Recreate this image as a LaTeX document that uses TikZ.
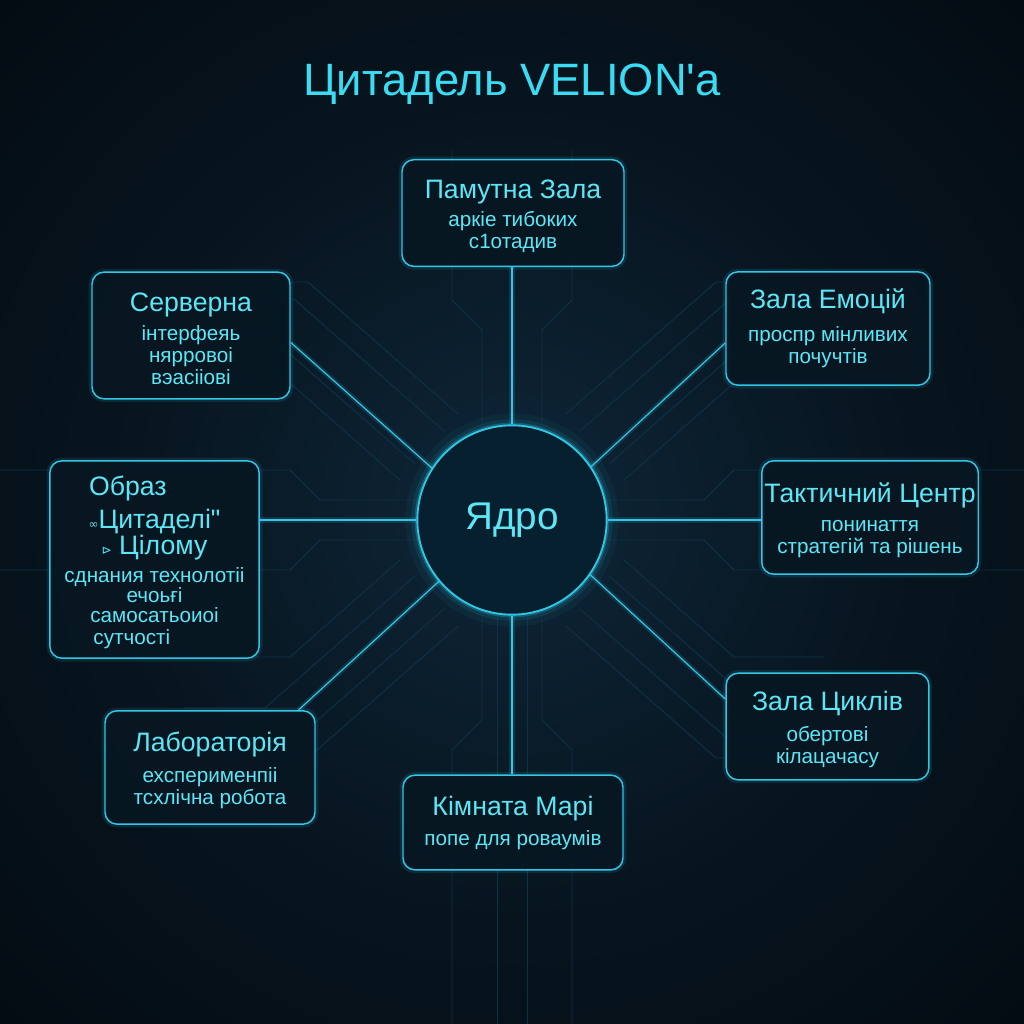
\documentclass[tikz,border=0pt]{standalone}
\usepackage{fontspec}
\setmainfont{Liberation Sans}[Ligatures=TeXOff]
\newfontfamily\symfont{DejaVu Sans}

\definecolor{bgcore}{HTML}{0E2638}
\definecolor{bgmid}{HTML}{07141E}
\definecolor{bgedge}{HTML}{010408}
\definecolor{cyanline}{HTML}{33C6E6}
\definecolor{cyantext}{HTML}{5CE6F6}
\definecolor{titlecyan}{HTML}{3ADCF4}
\definecolor{boxfill}{HTML}{071722}
\definecolor{tracecol}{HTML}{0D3248}
\definecolor{coredark}{HTML}{072030}
\definecolor{coremid}{HTML}{0C4058}
\definecolor{coreedge}{HTML}{2CC8E4}

\pgfdeclareradialshading{bgshade}{\pgfpoint{0bp}{0bp}}{color(0bp)=(bgcore); color(20bp)=(bgmid); color(50bp)=(bgedge); color(72bp)=(bgedge)}
\pgfdeclareradialshading{coreshade}{\pgfpoint{0bp}{0bp}}{color(0bp)=(coredark); color(30bp)=(coredark); color(44bp)=(coremid); color(50bp)=(coreedge)}

\newcommand{\hallname}{\fontsize{20}{24}\selectfont}
\newcommand{\hallhead}{\hallname\rule{0pt}{19pt}}
\newcommand{\hallnote}{\fontsize{15.5}{16.5}\selectfont}

\tikzset{
  hall/.style={draw=cyanline, line width=1.1pt, fill=boxfill, fill opacity=0.9, text opacity=1,
    rounded corners=9pt, align=center, text=cyantext, inner sep=2pt, font=\hallnote,
    preaction={draw=cyanline, line width=5pt, draw opacity=0.12}},
  link/.style={draw=cyanline, line width=0.9pt,
    preaction={draw=cyanline, line width=4pt, draw opacity=0.15}},
  trace/.style={draw=tracecol, line width=0.7pt},
  core/.style={circle, minimum size=142pt, shading=coreshade, draw=coreedge, line width=1.4pt,
    text=cyantext, font=\fontsize{29}{32}\selectfont,
    preaction={draw=cyanline, line width=18pt, draw opacity=0.05},
    preaction={draw=cyanline, line width=9pt, draw opacity=0.10},
    preaction={draw=cyanline, line width=4pt, draw opacity=0.25}},
  heading/.style={text=titlecyan, font=\fontsize{34}{40}\selectfont}
}

\begin{document}
\begin{tikzpicture}[x=0.75pt,y=0.75pt,yscale=-1,xscale=1]

\fill[shading=bgshade] (0,0) rectangle (1024,1024);
\useasboundingbox (0,0) rectangle (1024,1024);

% circuit traces
\draw[trace] (444,431) -- (294,299) -- (214,299);
\draw[trace] (458,414) -- (308,282) -- (228,282);
\draw[trace] (415,464) -- (265,332) -- (185,332);
\draw[trace] (400,480) -- (290,383) -- (200,383);
\draw[trace] (580,431) -- (730,299) -- (810,299);
\draw[trace] (566,414) -- (716,282) -- (796,282);
\draw[trace] (609,464) -- (759,332) -- (839,332);
\draw[trace] (624,480) -- (734,383) -- (824,383);
\draw[trace] (444,609) -- (294,741) -- (214,741);
\draw[trace] (458,626) -- (308,758) -- (228,758);
\draw[trace] (415,576) -- (265,708) -- (185,708);
\draw[trace] (400,560) -- (290,657) -- (200,657);
\draw[trace] (580,609) -- (730,741) -- (810,741);
\draw[trace] (566,626) -- (716,758) -- (796,758);
\draw[trace] (609,576) -- (759,708) -- (839,708);
\draw[trace] (624,560) -- (734,657) -- (824,657);
\draw[trace] (482,425) -- (482,330) -- (452,300) -- (452,150);
\draw[trace] (542,425) -- (542,330) -- (572,300) -- (572,150);
\draw[trace] (482,615) -- (482,720) -- (452,750) -- (452,1024);
\draw[trace] (542,615) -- (542,720) -- (572,750) -- (572,1024);
\draw[trace] (497,618) -- (497,1024);
\draw[trace] (527,618) -- (527,1024);
\draw[trace] (415,500) -- (320,500) -- (290,470) -- (0,470);
\draw[trace] (415,540) -- (320,540) -- (290,570) -- (0,570);
\draw[trace] (609,500) -- (704,500) -- (734,470) -- (1024,470);
\draw[trace] (609,540) -- (704,540) -- (734,570) -- (1024,570);

% title
\node[heading] (title) at (512,84) {Цитадель VELION'a};

% core
\node[core] (core) at (512,520) {Ядро};

% halls
\node[hall, minimum width=166.5pt, minimum height=80pt] (memory) at (513,213)
  {\hallhead Памутна Зала\\[5pt]\hallnote аркіе тибоких\\\hallnote с1отадив};
\node[hall, minimum width=148.5pt, minimum height=95pt] (server) at (191,335.5)
  {\hallhead Серверна\\[5pt]\hallnote інтерфеяь\\\hallnote нярровоі\\\hallnote вэасііові};
\node[hall, minimum width=153pt, minimum height=85pt] (emotion) at (828,328.5)
  {\hallname Зала Емоцій\\[8pt]\hallnote проспр мінливих\\\hallnote почучтів};
\node[hall, minimum width=157pt, minimum height=148pt] (image) at (154.5,559.5)
  {\hallhead Образ\hspace*{40pt}\\[5pt]\hallname{\symfont\fontsize{9}{10}\selectfont∞}Цитаделі"\\[0pt]%
   \hallname{\symfont\fontsize{9}{10}\selectfont⊳} Цілому\hspace*{13pt}\\[5pt]\hallnote сднания технолотіі\\[-1.5pt]%
   \hallnote ечоьғі\hspace*{52pt}\\[-1.5pt]\hallnote самосатьоиоі\hspace*{26pt}\\[0pt]\hallnote сутчості\hspace*{34pt}};
\node[hall, minimum width=160.5pt, minimum height=85pt] (tactic) at (870,517.5)
  {\hallhead Тактичний Центр\\[5pt]\hallnote понинаття\\\hallnote стратегій та рішень};
\node[hall, minimum width=157.5pt, minimum height=85pt] (lab) at (210,767.5)
  {\hallhead Лабораторія\\[7pt]\hallnote ехсперименпіі\\\hallnote тсхлічна робота};
\node[hall, minimum width=152pt, minimum height=80pt] (cycle) at (827.5,726.5)
  {\hallhead Зала Циклів\\[7pt]\hallnote обертові\\\hallnote кілацачасу};
\node[hall, minimum width=165pt, minimum height=71pt] (dream) at (513,822.5)
  {\hallname Кімната Марі\\[6pt]\hallnote попе для роваумів};

% links
\draw[link] (core.north) -- (core.north |- memory.south);
\draw[link] (core.south) -- (core.south |- dream.north);
\draw[link] (core.west) -- (core.west -| image.east);
\draw[link] (core.east) -- (core.east -| tactic.west);
\draw[link] (core.147) -- (server.-4);
\draw[link] (core.34) -- (emotion.188);
\draw[link] (core.220) -- (lab.33);
\draw[link] (core.-35) -- (cycle.165);

\end{tikzpicture}
\end{document}
